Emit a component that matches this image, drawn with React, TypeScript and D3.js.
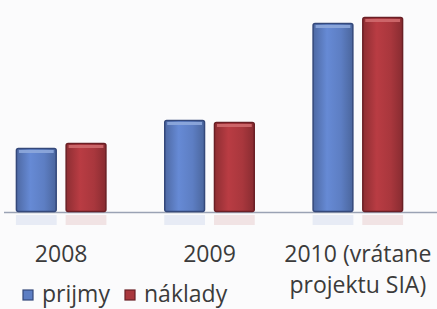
import * as d3 from "d3";
import { useEffect, useRef } from "react";

const years = ["2008", "2009", "2010"];
const yearLabels = [["2008"], ["2009"], ["2010 (vrátane", "projektu SIA)"]];
const seriesNames = ["prijmy", "náklady"];
const prijmy = [64, 92, 189];
const naklady = [69, 90, 195];

const fills = { prijmy: "#5d7ec3", "náklady": "#a9373d" };
const edges = { prijmy: "#34487a", "náklady": "#6a1f25" };
const lights = { prijmy: "#8ea8dc", "náklady": "#cf6a6e" };

const W = 437;
const H = 309;
const FONT = "'Open Sans', Lato, sans-serif";

const App = () => {
  const svgRef = useRef(null);

  useEffect(() => {
    const svg = d3.select(svgRef.current);
    svg.selectAll("*").remove();

    const base = 212;
    const x0 = d3
      .scaleBand()
      .domain(years)
      .range([-13, 432])
      .paddingInner(0.39)
      .paddingOuter(0.195);
    const x1 = d3
      .scaleBand()
      .domain(seriesNames)
      .range([0, x0.bandwidth()])
      .paddingInner(0.18);
    const y = d3.scaleLinear().domain([0, 200]).range([base, 12]);

    const data = years.map((yr, i) => ({
      year: yr,
      values: [
        { key: "prijmy", v: prijmy[i] },
        { key: "náklady", v: naklady[i] },
      ],
    }));

    svg.append("rect").attr("width", W).attr("height", H).attr("fill", "#fbfbfc");

    const defs = svg.append("defs");
    seriesNames.forEach((s, i) => {
      const g = defs
        .append("linearGradient")
        .attr("id", "grad" + i)
        .attr("x1", "0")
        .attr("x2", "1")
        .attr("y1", "0")
        .attr("y2", "0");
      g.append("stop").attr("offset", "0%").attr("stop-color", d3.color(fills[s]).darker(0.5));
      g.append("stop").attr("offset", "35%").attr("stop-color", d3.color(fills[s]).brighter(0.25));
      g.append("stop").attr("offset", "70%").attr("stop-color", fills[s]);
      g.append("stop").attr("offset", "100%").attr("stop-color", d3.color(fills[s]).darker(0.6));
    });

    // axis line
    svg
      .append("line")
      .attr("x1", 4)
      .attr("x2", W)
      .attr("y1", base + 0.5)
      .attr("y2", base + 0.5)
      .attr("stroke", "#9aa2b4")
      .attr("stroke-width", 1.5);

    const groups = svg
      .selectAll("g.grp")
      .data(data)
      .join("g")
      .attr("class", "grp")
      .attr("transform", (d) => `translate(${x0(d.year)},0)`);

    // faint reflection under bars
    groups
      .selectAll("rect.refl")
      .data((d) => d.values)
      .join("rect")
      .attr("x", (d) => x1(d.key))
      .attr("y", base + 3)
      .attr("width", x1.bandwidth())
      .attr("height", 10)
      .attr("fill", (d) => fills[d.key])
      .attr("opacity", 0.12);

    groups
      .selectAll("rect.bar")
      .data((d) => d.values)
      .join("rect")
      .attr("class", "bar")
      .attr("x", (d) => x1(d.key) + 0.5)
      .attr("y", (d) => y(d.v) + 0.5)
      .attr("width", x1.bandwidth() - 1)
      .attr("height", (d) => base - y(d.v) - 1)
      .attr("rx", 2)
      .attr("fill", (d) => "url(#grad" + seriesNames.indexOf(d.key) + ")")
      .attr("stroke", (d) => edges[d.key])
      .attr("stroke-width", 1.5);

    // top bevel
    groups
      .selectAll("rect.bev")
      .data((d) => d.values)
      .join("rect")
      .attr("x", (d) => x1(d.key) + 3)
      .attr("y", (d) => y(d.v) + 2)
      .attr("width", x1.bandwidth() - 6)
      .attr("height", 3)
      .attr("fill", (d) => lights[d.key])
      .attr("opacity", 0.9);

    // category labels
    const labels = svg
      .selectAll("text.cat")
      .data(years)
      .join("text")
      .attr("class", "cat")
      .attr("text-anchor", "middle")
      .attr("font-family", FONT)
      .attr("font-size", 23)
      .attr("fill", "#3b3b3b");
    labels
      .selectAll("tspan")
      .data((d, i) => yearLabels[i].map((t) => ({ t, yr: d })))
      .join("tspan")
      .attr("x", (d) => x0(d.yr) + x0.bandwidth() / 2)
      .attr("y", (d, j) => 262 + j * 31)
      .text((d) => d.t);

    // legend
    const legendX = [23, 125];
    const leg = svg
      .selectAll("g.leg")
      .data(seriesNames)
      .join("g")
      .attr("class", "leg")
      .attr("transform", (d, i) => `translate(${legendX[i]},290)`);
    leg
      .append("rect")
      .attr("width", 10)
      .attr("height", 10)
      .attr("fill", (d) => fills[d])
      .attr("stroke", (d) => edges[d])
      .attr("stroke-width", 1.2);
    leg
      .append("text")
      .attr("x", 19)
      .attr("y", 12)
      .attr("font-family", FONT)
      .attr("font-size", 23)
      .attr("fill", "#3b3b3b")
      .text((d) => d);
  }, []);

  return (
    <svg
      ref={svgRef}
      width={W}
      height={H}
      style={{ position: "absolute", left: 0, top: 0 }}
    ></svg>
  );
};

export default App;
